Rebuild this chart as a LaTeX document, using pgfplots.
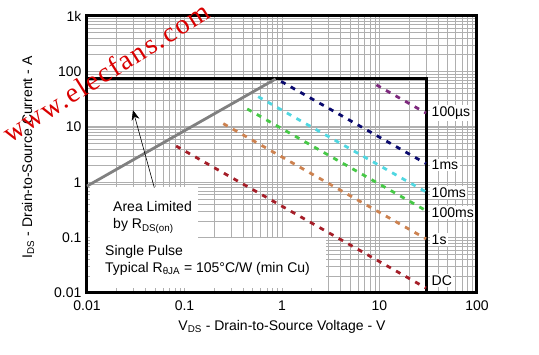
\documentclass[border=0pt]{standalone}
\usepackage{fontspec}
\setmainfont{Liberation Sans}
\newfontfamily\wm[LetterSpace=6]{Liberation Serif}
\usepackage{pgfplots}
\pgfplotsset{compat=1.18}
\usetikzlibrary{arrows.meta}
\definecolor{cpurple}{RGB}{125,40,125}
\definecolor{cnavy}{RGB}{10,10,110}
\definecolor{ccyan}{RGB}{80,215,225}
\definecolor{cgreen}{RGB}{70,200,70}
\definecolor{corange}{RGB}{205,130,80}
\definecolor{cred}{RGB}{165,30,40}
\definecolor{cgridc}{RGB}{175,175,175}
\begin{document}
\begin{tikzpicture}
\useasboundingbox (-87pt,-62pt) rectangle (452pt,293pt);
\begin{axis}[
  at={(0,0)}, anchor=south west,
  scale only axis, width=390pt, height=277pt,
  xmode=log, ymode=log,
  xmin=0.01, xmax=100, ymin=0.01, ymax=1000,
  xtick={0.01,0.1,1,10,100}, xticklabels={0.01,0.1,1,10,100},
  ytick={0.01,0.1,1,10,100,1000}, yticklabels={0.01,0.1,1,10,100,1k},
  grid=both,
  major grid style={cgridc, line width=0.6pt},
  minor grid style={cgridc, line width=0.5pt},
  major tick length=0pt, minor tick length=0pt,
  axis line style={line width=3pt, black},
  tick label style={font=\fontsize{14}{16}\selectfont},
  /pgf/number format/assume math mode=true,
  xticklabel style={yshift=-4pt},
  yticklabel style={xshift=-2pt},
  label style={font=\fontsize{14}{16}\selectfont},
  xlabel={V\textsubscript{DS} - Drain-to-Source Voltage - V},
  ylabel={I\textsubscript{DS} - Drain-to-Source Current - A},
  xlabel style={at={(axis description cs:0.5,-0.123)}, anchor=center},
  ylabel style={at={(axis description cs:-0.151,0.49)}, anchor=center},
  clip=false,
]
% white backgrounds for text
\fill[white] (axis cs:0.0108,0.82) rectangle (axis cs:0.137,0.098);
\fill[white] (axis cs:0.0108,0.098) rectangle (axis cs:2.8,0.0125);
% SOA box
\addplot[black, line width=3pt] coordinates {(0.01,73) (30,73) (30,0.01)};
% RDS(on) limit
\addplot[gray, line width=2.8pt] coordinates {(0.01,0.85) (0.86,73)};
% pulse lines
\addplot[cpurple, line width=2.8pt, dash pattern=on 5pt off 6pt] coordinates {(9.3,57) (30,17.7)};
\addplot[cnavy, line width=2.8pt, dash pattern=on 5pt off 6pt] coordinates {(0.98,66) (30,2.17)};
\addplot[ccyan, line width=2.8pt, dash pattern=on 5pt off 6pt] coordinates {(0.57,35) (30,0.667)};
\addplot[cgreen, line width=2.8pt, dash pattern=on 5pt off 6pt] coordinates {(0.44,21) (30,0.307)};
\addplot[corange, line width=2.8pt, dash pattern=on 5pt off 6pt] coordinates {(0.25,11.4) (30,0.095)};
\addplot[cred, line width=2.8pt, dash pattern=on 5pt off 6pt] coordinates {(0.082,4.5) (30,0.0123)};
% arrow
\draw[black, line width=0.6pt, -{Stealth[length=10pt,width=8pt]}] (axis cs:0.049,0.8) -- (axis cs:0.0296,20);
% labels
\begin{scope}[every node/.style={font=\fontsize{14}{16}\selectfont, fill=white, inner sep=1.5pt, anchor=west}]
\node at (axis cs:33,17.7) {100µs};
\node at (axis cs:33,2.04) {1ms};
\node at (axis cs:33,0.64) {10ms};
\node at (axis cs:33,0.28) {100ms};
\node at (axis cs:33,0.091) {1s};
\node at (axis cs:33,0.0166) {DC};
\end{scope}
\begin{scope}[every node/.style={font=\fontsize{14}{16}\selectfont, inner sep=0pt, anchor=base west}]
\node at (axis cs:0.0185,0.30) {Area Limited};
\node at (axis cs:0.0185,0.143) {by R\textsubscript{DS(on)}};
\node at (axis cs:0.0153,0.0485) {Single Pulse};
\node at (axis cs:0.0153,0.0239) {Typical R\textsubscript{θJA} = 105°C/W (min Cu)};
\end{scope}
\end{axis}
\node[rotate=32, text=red!85!black, font=\wm\fontsize{28}{30}\selectfont] at (19pt,221pt) {www.elecfans.com};
\end{tikzpicture}
\end{document}
